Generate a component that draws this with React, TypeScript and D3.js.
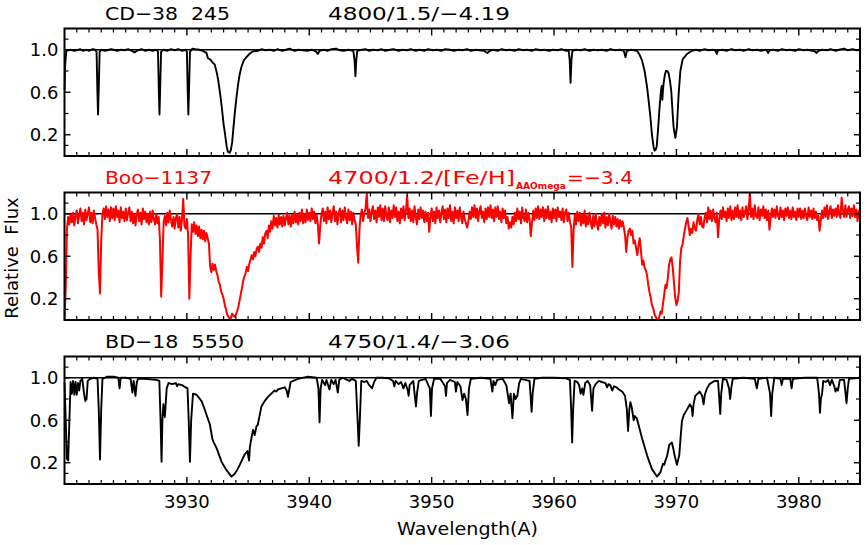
import React from "react";
import * as d3 from "d3";

// ---------- Data ----------
const X_DOMAIN = [3920, 3985];
const Y_DOMAIN = [0, 1.2];
const X_MAJOR_TICKS = [3930, 3940, 3950, 3960, 3970, 3980];
const Y_LABEL_TICKS = [0.2, 0.6, 1.0];
const Y_MINOR_TICKS = [0.1, 0.4, 0.8, 1.1];

const STAR_NAMES = ["CD\u221238  245", "Boo\u22121137", "BD\u221218  5550"];
const STAR_PARAMS = ["4800/1.5/\u22124.19", "4700/1.2/[Fe/H]", "4750/1.4/\u22123.06"];
const BOO_SUBSCRIPT = "AAOmega";
const BOO_FEH = "=\u22123.4";

// Panel 1: CD-38 245  [wavelength, relative flux]
const SPEC_CD38: [number, number][] = [
  [3920.0, 0.62], [3920.05, 0.85], [3920.15, 0.99], [3920.5, 1.0], [3920.8, 0.99], [3921.0, 0.995], [3921.3, 1.005], [3921.5, 0.99], [3921.8, 1.0],
  [3922.0, 0.99], [3922.3, 1.005], [3922.5, 1.0], [3922.62, 0.98], [3922.69, 0.6], [3922.74, 0.39], [3922.79, 0.6], [3922.87, 0.98], [3923.0, 1.0],
  [3923.3, 0.99], [3923.5, 0.995], [3923.8, 1.005], [3924.0, 1.0], [3924.3, 0.99], [3924.6, 1.0], [3924.9, 0.995], [3925.2, 1.005], [3925.5, 0.99],
  [3925.75, 0.975], [3925.85, 0.985], [3926.0, 0.995], [3926.3, 1.005], [3926.6, 0.99], [3926.9, 1.0], [3927.2, 0.99], [3927.5, 1.0],
  [3927.64, 0.98], [3927.71, 0.6], [3927.76, 0.39], [3927.81, 0.6], [3927.89, 0.98], [3928.1, 1.0], [3928.4, 0.99], [3928.7, 1.005], [3929.0, 0.995],
  [3929.3, 1.005], [3929.6, 0.99], [3929.9, 1.0], [3930.0, 0.98], [3930.07, 0.6], [3930.12, 0.39], [3930.17, 0.6], [3930.25, 0.98], [3930.45, 1.01],
  [3930.7, 1.005], [3931.0, 1.0], [3931.3, 0.99], [3931.6, 0.97], [3931.72, 0.92], [3931.9, 0.91], [3932.1, 0.88], [3932.28, 0.86], [3932.45, 0.78],
  [3932.55, 0.72], [3932.7, 0.6], [3932.83, 0.48], [3933.0, 0.3], [3933.1, 0.22], [3933.25, 0.09], [3933.35, 0.04], [3933.5, 0.03], [3933.6, 0.06],
  [3933.7, 0.13], [3933.8, 0.26], [3933.91, 0.4], [3934.05, 0.55], [3934.18, 0.67], [3934.3, 0.76], [3934.46, 0.84], [3934.65, 0.9], [3934.87, 0.93],
  [3935.1, 0.96], [3935.41, 0.985], [3935.8, 0.99], [3936.1, 1.005], [3936.4, 0.995], [3936.8, 1.0], [3937.1, 0.99], [3937.4, 1.005], [3937.8, 0.99],
  [3938.1, 1.0], [3938.4, 1.01], [3938.8, 0.99], [3939.1, 1.0], [3939.5, 0.995], [3939.8, 0.99], [3940.2, 1.0], [3940.55, 0.985], [3940.7, 0.96],
  [3940.85, 0.99], [3941.2, 1.0], [3941.5, 0.99], [3941.8, 1.005], [3942.2, 1.01], [3942.5, 0.995], [3942.8, 0.99], [3943.2, 1.0], [3943.6, 0.99],
  [3943.7, 0.9], [3943.77, 0.75], [3943.84, 0.9], [3943.92, 0.99], [3944.3, 1.0], [3944.6, 1.005], [3944.9, 0.99], [3945.2, 1.0], [3945.6, 0.995],
  [3945.9, 1.005], [3946.2, 0.99], [3946.6, 1.0], [3946.9, 1.005], [3947.3, 0.99], [3947.6, 1.0], [3948.0, 0.995], [3948.3, 1.005], [3948.7, 0.99],
  [3949.0, 1.0], [3949.4, 0.99], [3949.7, 1.005], [3950.1, 0.995], [3950.4, 1.0], [3950.8, 0.99], [3951.1, 1.005], [3951.5, 1.0], [3951.8, 0.99],
  [3952.2, 1.0], [3952.5, 0.995], [3952.9, 1.005], [3953.2, 0.99], [3953.6, 1.0], [3953.9, 0.995], [3954.3, 0.99], [3954.45, 0.975], [3954.56, 0.97],
  [3954.7, 0.985], [3955.0, 1.0], [3955.4, 0.99], [3955.7, 1.005], [3956.1, 0.995], [3956.4, 1.0], [3956.8, 0.99], [3957.1, 1.005], [3957.5, 0.995],
  [3957.8, 1.0], [3958.2, 0.99], [3958.5, 1.005], [3958.9, 0.995], [3959.2, 1.0], [3959.6, 0.99], [3959.9, 1.0], [3960.3, 0.995], [3960.6, 1.005],
  [3961.0, 0.99], [3961.2, 0.99], [3961.28, 0.9], [3961.35, 0.69], [3961.42, 0.9], [3961.5, 0.99], [3961.8, 1.0], [3962.2, 0.995], [3962.5, 1.005],
  [3962.9, 0.99], [3963.2, 1.0], [3963.6, 0.995], [3963.9, 1.0], [3964.3, 0.99], [3964.6, 1.005], [3965.0, 0.995], [3965.4, 1.0], [3965.7, 0.99],
  [3965.84, 0.93], [3965.95, 0.99], [3966.3, 1.0], [3966.78, 0.99], [3967.0, 0.95], [3967.19, 0.9], [3967.4, 0.8], [3967.6, 0.65], [3967.75, 0.5],
  [3967.87, 0.37], [3968.0, 0.2], [3968.06, 0.15], [3968.14, 0.08], [3968.22, 0.05], [3968.3, 0.06], [3968.39, 0.09], [3968.5, 0.25], [3968.61, 0.44],
  [3968.74, 0.62], [3968.8, 0.66], [3968.85, 0.53], [3968.9, 0.62], [3968.96, 0.69], [3969.05, 0.76], [3969.14, 0.8], [3969.25, 0.8], [3969.36, 0.78],
  [3969.48, 0.7], [3969.58, 0.61], [3969.68, 0.42], [3969.77, 0.27], [3969.91, 0.17], [3970.04, 0.27], [3970.18, 0.58], [3970.32, 0.8], [3970.51, 0.91],
  [3970.86, 0.96], [3971.26, 0.99], [3971.6, 1.0], [3971.9, 0.99], [3972.3, 1.005], [3972.6, 0.995], [3973.0, 1.0], [3973.2, 0.99], [3973.3, 0.96],
  [3973.4, 0.995], [3973.8, 1.0], [3974.1, 0.99], [3974.5, 1.005], [3974.8, 0.995], [3975.2, 1.0], [3975.5, 0.99], [3975.9, 1.005], [3976.2, 0.995],
  [3976.6, 1.0], [3976.9, 0.99], [3977.3, 1.0], [3977.4, 0.99], [3977.5, 0.97], [3977.6, 0.995], [3977.9, 1.0], [3978.3, 0.99], [3978.6, 1.005],
  [3979.0, 0.995], [3979.3, 1.0], [3979.7, 0.99], [3980.0, 1.005], [3980.4, 0.995], [3980.7, 1.0], [3981.1, 0.99], [3981.3, 0.985], [3981.45, 0.97],
  [3981.6, 0.99], [3981.9, 1.0], [3982.3, 0.995], [3982.6, 1.005], [3983.0, 0.99], [3983.3, 1.0], [3983.7, 1.01], [3984.0, 0.995], [3984.4, 1.005],
  [3984.7, 0.995], [3985.0, 1.0],
];

// Panel 2: Boo-1137, sampled every 0.1 A from 3920.0
const BOO_START = 3920.0;
const BOO_STEP = 0.1;
const SPEC_BOO: number[] = [
  0.00, 0.30, 0.86, 0.97, 0.90, 1.00, 0.92, 1.01, 0.89, 0.98, // 3920
  1.03, 0.91, 0.99, 1.05, 0.93, 1.01, 0.90, 1.04, 0.94, 1.00, // 3921
  1.06, 0.92, 1.01, 0.91, 1.03, 0.96, 0.90, 0.85, 0.45, 0.25, // 3922
  0.75, 0.99, 1.05, 0.95, 1.07, 0.97, 1.04, 0.93, 1.06, 0.96, // 3923
  1.05, 0.94, 1.07, 0.97, 1.03, 0.92, 1.06, 0.96, 1.02, 0.93, // 3924
  1.05, 0.94, 1.01, 1.06, 0.93, 1.02, 0.91, 1.00, 0.89, 0.99, // 3925
  1.04, 0.93, 1.01, 0.90, 1.05, 0.95, 1.02, 0.92, 1.00, 0.90, // 3926
  1.02, 0.92, 1.03, 0.95, 0.90, 1.00, 0.91, 0.97, 0.75, 0.22, // 3927
  0.55, 0.92, 0.98, 0.89, 1.01, 0.92, 1.03, 0.94, 0.88, 0.97, // 3928
  0.86, 0.96, 1.00, 0.87, 0.97, 0.84, 0.95, 1.14, 0.89, 0.86, // 3929
  0.95, 0.80, 0.20, 0.60, 0.90, 0.83, 0.92, 0.81, 0.89, 0.79, // 3930
  0.88, 0.77, 0.85, 0.76, 0.84, 0.74, 0.82, 0.77, 0.72, 0.50, // 3931
  0.45, 0.53, 0.47, 0.52, 0.46, 0.42, 0.36, 0.33, 0.27, 0.24, // 3932
  0.20, 0.14, 0.10, 0.05, 0.03, 0.01, 0.02, 0.06, 0.04, 0.03, // 3933
  0.05, 0.08, 0.12, 0.18, 0.24, 0.30, 0.37, 0.41, 0.44, 0.50, // 3934
  0.46, 0.53, 0.57, 0.61, 0.57, 0.64, 0.60, 0.67, 0.69, 0.64, // 3935
  0.72, 0.68, 0.78, 0.72, 0.81, 0.84, 0.77, 0.89, 0.83, 0.93, // 3936
  0.86, 0.98, 0.89, 0.96, 0.87, 0.99, 0.90, 0.97, 0.88, 0.98, // 3937
  0.89, 0.96, 1.01, 0.90, 0.98, 0.88, 0.99, 0.91, 1.02, 0.92, // 3938
  0.99, 0.90, 1.01, 0.93, 1.04, 0.91, 1.00, 0.92, 1.04, 0.94, // 3939
  1.01, 0.93, 1.05, 0.95, 1.02, 0.91, 0.99, 0.90, 0.72, 0.89, // 3940
  1.00, 1.05, 0.93, 1.02, 0.91, 1.06, 0.95, 1.03, 0.92, 1.01, // 3941
  1.07, 0.93, 1.02, 0.90, 1.00, 1.05, 0.92, 1.03, 0.94, 1.06, // 3942
  0.96, 0.91, 1.04, 0.94, 1.02, 0.90, 1.01, 0.94, 0.90, 0.70, // 3943
  0.54, 0.85, 0.99, 1.04, 0.93, 1.01, 1.05, 1.19, 0.96, 1.04, // 3944
  0.93, 1.02, 1.07, 0.95, 1.03, 0.92, 1.06, 0.97, 1.08, 0.94, // 3945
  1.05, 0.93, 1.07, 0.98, 0.94, 1.06, 0.92, 1.03, 0.96, 1.08, // 3946
  0.97, 1.06, 0.93, 1.02, 0.91, 1.05, 0.96, 1.07, 0.94, 1.03, // 3947
  1.17, 0.96, 1.05, 0.93, 1.03, 0.92, 1.07, 0.97, 0.90, 1.04, // 3948
  0.95, 1.06, 0.96, 1.03, 0.92, 1.02, 0.93, 1.01, 0.83, 0.96, // 3949
  1.05, 0.93, 1.02, 0.91, 1.06, 0.96, 1.03, 0.92, 1.01, 1.07, // 3950
  0.95, 1.04, 0.92, 1.05, 0.96, 1.08, 0.93, 1.02, 0.91, 1.06, // 3951
  0.96, 1.03, 0.93, 1.06, 0.97, 0.91, 1.02, 0.95, 0.91, 0.87, // 3952
  0.93, 1.02, 0.95, 1.06, 0.97, 1.08, 0.96, 1.05, 0.93, 1.03, // 3953
  1.07, 0.96, 1.02, 0.92, 1.05, 0.95, 1.06, 0.97, 1.08, 0.96, // 3954
  1.04, 0.93, 1.06, 0.97, 1.07, 0.95, 1.02, 0.92, 1.05, 0.96, // 3955
  1.03, 0.91, 0.97, 0.86, 0.92, 0.87, 0.97, 0.90, 1.01, 0.93, // 3956
  1.05, 0.95, 1.02, 0.91, 1.06, 0.96, 0.93, 1.04, 0.92, 1.01, // 3957
  0.95, 0.79, 0.92, 1.03, 0.94, 1.05, 0.96, 1.07, 0.95, 1.04, // 3958
  0.97, 1.06, 0.93, 1.04, 0.96, 1.07, 0.95, 1.02, 0.92, 1.05, // 3959
  0.96, 1.04, 0.93, 1.06, 0.97, 1.02, 0.94, 1.05, 0.92, 1.01, // 3960
  1.04, 0.93, 1.01, 0.92, 0.88, 0.50, 0.85, 0.99, 0.90, 1.02, // 3961
  0.93, 1.01, 0.89, 0.99, 0.91, 1.03, 0.88, 0.98, 0.90, 1.01, // 3962
  0.92, 0.86, 0.98, 0.88, 1.00, 0.91, 0.85, 0.97, 0.89, 1.00, // 3963
  0.91, 1.01, 0.87, 0.97, 0.89, 1.00, 0.92, 0.86, 0.98, 0.90, // 3964
  0.97, 0.88, 0.95, 0.86, 0.94, 0.88, 0.93, 0.87, 0.80, 0.64, // 3965
  0.78, 0.84, 0.86, 0.80, 0.84, 0.72, 0.75, 0.68, 0.61, 0.70, // 3966
  0.77, 0.66, 0.52, 0.56, 0.49, 0.47, 0.42, 0.33, 0.26, 0.21, // 3967
  0.14, 0.11, 0.06, 0.03, 0.01, 0.00, 0.03, 0.08, 0.06, 0.15, // 3968
  0.24, 0.33, 0.30, 0.40, 0.52, 0.57, 0.59, 0.49, 0.35, 0.21, // 3969
  0.14, 0.18, 0.27, 0.56, 0.68, 0.71, 0.79, 0.86, 0.92, 0.96, // 3970
  0.88, 0.80, 0.86, 0.82, 0.92, 0.86, 0.84, 0.94, 1.00, 0.90, // 3971
  0.97, 0.88, 0.87, 0.96, 1.01, 0.92, 1.06, 0.95, 1.03, 0.93, // 3972
  1.04, 0.96, 0.92, 1.01, 0.78, 0.95, 1.03, 0.95, 1.06, 0.97, // 3973
  1.02, 0.93, 1.05, 0.96, 1.07, 0.94, 1.03, 0.95, 1.06, 0.97, // 3974
  1.08, 0.96, 1.03, 0.94, 1.06, 0.97, 1.02, 1.07, 0.95, 1.04, // 3975
  1.19, 0.97, 1.05, 0.95, 1.08, 0.98, 0.96, 1.06, 0.94, 1.04, // 3976
  0.98, 1.07, 0.96, 1.04, 0.94, 1.03, 0.85, 0.96, 1.05, 0.97, // 3977
  1.04, 0.96, 1.07, 0.98, 0.95, 1.06, 0.97, 1.03, 0.94, 1.05, // 3978
  0.98, 1.06, 0.96, 1.03, 0.95, 1.06, 0.97, 1.02, 0.94, 1.05, // 3979
  0.97, 1.05, 0.95, 1.03, 0.96, 1.05, 0.98, 0.94, 1.06, 0.97, // 3980
  1.03, 0.95, 1.05, 0.96, 1.02, 0.94, 0.98, 0.84, 0.94, 1.03, // 3981
  0.96, 1.06, 0.97, 1.08, 0.95, 1.03, 1.07, 0.96, 1.04, 0.98, // 3982
  1.05, 0.97, 1.08, 0.99, 0.96, 1.15, 1.04, 0.97, 1.08, 0.97, // 3983
  1.04, 1.07, 0.96, 1.05, 0.98, 1.08, 0.97, 1.04, 0.93, 1.03, // 3984
  0.99,
];

// Panel 3: BD-18 5550  [wavelength, relative flux]
const SPEC_BD18: [number, number][] = [
  [3920.0, 0.95], [3920.1, 0.6], [3920.2, 0.24], [3920.3, 0.22], [3920.4, 0.6], [3920.5, 0.96], [3920.6, 0.85], [3920.7, 0.97], [3920.8, 0.84],
  [3920.9, 0.96], [3921.0, 0.84], [3921.1, 0.95], [3921.2, 0.88], [3921.3, 0.97], [3921.45, 0.99], [3921.6, 0.85], [3921.7, 0.78], [3921.8, 0.8],
  [3921.9, 0.97], [3922.1, 0.99], [3922.4, 1.0], [3922.7, 0.99], [3922.8, 0.7], [3922.9, 0.23], [3923.0, 0.7], [3923.1, 0.99], [3923.5, 1.01],
  [3924.0, 1.01], [3924.4, 1.0], [3924.5, 0.9], [3924.6, 1.0], [3925.0, 1.0], [3925.4, 0.99], [3925.55, 0.86], [3925.65, 0.97], [3925.8, 0.83],
  [3925.9, 0.95], [3926.0, 0.99], [3926.5, 0.99], [3927.0, 0.985], [3927.5, 0.98], [3927.75, 0.97], [3927.85, 0.6], [3927.93, 0.21], [3928.0, 0.6],
  [3928.08, 0.75], [3928.2, 0.63], [3928.35, 0.9], [3928.5, 0.95], [3928.8, 0.94], [3929.1, 0.95], [3929.2, 0.92], [3929.3, 0.94], [3929.6, 0.93],
  [3929.9, 0.91], [3930.05, 0.9], [3930.15, 0.6], [3930.25, 0.21], [3930.35, 0.6], [3930.5, 0.85], [3930.79, 0.84], [3931.2, 0.78], [3931.4, 0.72],
  [3931.61, 0.65], [3931.88, 0.56], [3932.0, 0.48], [3932.07, 0.43], [3932.2, 0.39], [3932.42, 0.34], [3932.83, 0.21], [3933.24, 0.13], [3933.64, 0.07],
  [3933.86, 0.09], [3934.1, 0.13], [3934.32, 0.18], [3934.73, 0.28], [3934.95, 0.31], [3935.02, 0.26], [3935.08, 0.22], [3935.15, 0.35], [3935.27, 0.43],
  [3935.41, 0.51], [3935.54, 0.46], [3935.68, 0.54], [3935.8, 0.56], [3935.9, 0.62], [3936.09, 0.73], [3936.35, 0.78], [3936.63, 0.82], [3936.9, 0.85],
  [3937.17, 0.88], [3937.3, 0.87], [3937.45, 0.89], [3937.99, 0.91], [3938.15, 0.88], [3938.26, 0.82], [3938.38, 0.9], [3938.48, 0.96], [3939.07, 0.99],
  [3939.89, 1.01], [3940.6, 1.0], [3940.75, 0.9], [3940.84, 0.58], [3940.93, 0.9], [3941.05, 0.98], [3941.3, 0.93], [3941.4, 0.98], [3941.65, 0.89],
  [3941.8, 0.98], [3942.0, 0.94], [3942.15, 0.98], [3942.33, 0.86], [3942.45, 0.98], [3942.7, 1.0], [3943.28, 0.97], [3943.5, 0.99], [3943.8, 0.97],
  [3943.95, 0.6], [3944.04, 0.36], [3944.13, 0.6], [3944.25, 0.97], [3944.5, 0.96], [3944.7, 0.97], [3944.9, 0.93], [3945.13, 0.9], [3945.3, 0.96],
  [3945.5, 1.0], [3946.0, 1.0], [3946.5, 0.995], [3946.85, 0.97], [3946.95, 0.92], [3947.05, 0.97], [3947.3, 0.94], [3947.5, 0.96], [3947.7, 0.9],
  [3947.85, 0.95], [3948.05, 0.88], [3948.12, 0.83], [3948.2, 0.93], [3948.5, 0.97], [3948.65, 0.8], [3948.72, 0.73], [3948.8, 0.85], [3948.95, 0.97],
  [3949.5, 0.99], [3949.85, 0.9], [3949.94, 0.64], [3950.03, 0.9], [3950.2, 0.99], [3950.7, 0.99], [3951.1, 0.92], [3951.17, 0.83], [3951.25, 0.95],
  [3951.5, 0.98], [3951.9, 0.96], [3951.98, 0.87], [3952.1, 0.96], [3952.35, 0.92], [3952.52, 0.79], [3952.65, 0.85], [3952.8, 0.8], [3952.93, 0.65],
  [3953.05, 0.9], [3953.2, 0.99], [3954.0, 1.0], [3954.8, 0.99], [3954.96, 0.87], [3955.05, 0.97], [3955.2, 0.93], [3955.35, 0.98], [3955.8, 0.99],
  [3956.1, 0.93], [3956.33, 0.76], [3956.45, 0.85], [3956.6, 0.62], [3956.72, 0.85], [3956.85, 0.8], [3957.0, 0.83], [3957.15, 0.95], [3957.3, 0.99],
  [3958.0, 0.97], [3958.1, 0.8], [3958.17, 0.68], [3958.25, 0.85], [3958.4, 0.99], [3959.0, 1.0], [3960.0, 1.0], [3961.0, 0.995], [3961.3, 0.98],
  [3961.4, 0.7], [3961.48, 0.39], [3961.56, 0.7], [3961.68, 0.97], [3961.9, 0.96], [3962.05, 0.93], [3962.17, 0.85], [3962.3, 0.9], [3962.4, 0.84],
  [3962.55, 0.95], [3962.75, 0.97], [3962.95, 0.93], [3963.11, 0.69], [3963.22, 0.9], [3963.4, 0.94], [3963.66, 0.97], [3963.9, 0.96], [3964.2, 0.95],
  [3964.34, 0.91], [3964.45, 0.94], [3964.6, 0.93], [3964.75, 0.88], [3964.9, 0.92], [3965.1, 0.91], [3965.3, 0.89], [3965.56, 0.87], [3965.8, 0.83],
  [3965.95, 0.7], [3966.05, 0.5], [3966.15, 0.7], [3966.24, 0.77], [3966.35, 0.72], [3966.51, 0.6], [3966.6, 0.64], [3966.75, 0.62], [3966.92, 0.55],
  [3967.19, 0.43], [3967.6, 0.27], [3968.0, 0.14], [3968.41, 0.07], [3968.69, 0.11], [3968.9, 0.19], [3969.0, 0.18], [3969.1, 0.22], [3969.23, 0.26],
  [3969.42, 0.37], [3969.63, 0.39], [3969.75, 0.33], [3969.85, 0.27], [3970.04, 0.18], [3970.23, 0.27], [3970.35, 0.45], [3970.45, 0.59], [3970.6, 0.65],
  [3970.86, 0.7], [3971.1, 0.75], [3971.25, 0.72], [3971.32, 0.64], [3971.4, 0.75], [3971.54, 0.83], [3971.9, 0.87], [3972.1, 0.83], [3972.22, 0.75],
  [3972.32, 0.84], [3972.5, 0.9], [3972.7, 0.94], [3973.1, 0.97], [3973.4, 0.97], [3973.5, 0.8], [3973.58, 0.66], [3973.66, 0.85], [3973.8, 0.99],
  [3974.1, 0.98], [3974.3, 0.9], [3974.39, 0.8], [3974.48, 0.9], [3974.6, 0.99], [3975.5, 1.0], [3976.4, 0.99], [3976.57, 0.9], [3976.7, 0.99],
  [3977.4, 1.0], [3977.65, 0.85], [3977.74, 0.64], [3977.83, 0.85], [3978.0, 1.0], [3978.5, 0.99], [3978.6, 0.93], [3978.7, 0.99], [3979.3, 0.99],
  [3979.41, 0.9], [3979.52, 0.99], [3980.5, 1.0], [3981.5, 1.0], [3981.65, 0.85], [3981.73, 0.67], [3981.8, 0.8], [3981.9, 0.85], [3982.0, 0.97],
  [3982.2, 0.96], [3982.4, 0.98], [3982.55, 0.93], [3982.7, 0.98], [3982.9, 0.92], [3983.0, 0.87], [3983.1, 0.9], [3983.2, 0.88], [3983.35, 0.98],
  [3983.7, 0.98], [3983.82, 0.85], [3983.9, 0.76], [3984.0, 0.9], [3984.1, 0.99], [3985.0, 1.0],
];

// ---------- Layout ----------
const W = 867;
const H = 545;
const LEFT = 64.5;
const RIGHT = 860;
const PANEL_TOPS = [28.5, 192.5, 356.5];
const PANEL_H = 127.5;
const FONT = "'DejaVu Sans', 'Liberation Sans', sans-serif";
const NAME_LEN = [125, 107, 139];
const PARAM_LEN = [182, 187, 182];

const x = d3.scaleLinear().domain(X_DOMAIN).range([LEFT, RIGHT]);

function Panel({ idx, data, color }: { idx: number; data: [number, number][]; color: string }) {
  const top = PANEL_TOPS[idx];
  const bottom = top + PANEL_H;
  const y = d3.scaleLinear().domain(Y_DOMAIN).range([bottom, top]);
  const line = d3
    .line<[number, number]>()
    .x((d) => x(d[0]))
    .y((d) => y(d[1]));
  const minorX = d3.range(3921, 3985, 1).filter((v) => !X_MAJOR_TICKS.includes(v));
  const clipId = `clip${idx}`;
  const titleY = top - 9;
  return (
    <g>
      <defs>
        <clipPath id={clipId}>
          <rect x={LEFT - 1} y={top} width={RIGHT - LEFT + 2} height={PANEL_H} />
        </clipPath>
      </defs>
      <line x1={LEFT} x2={RIGHT} y1={y(1)} y2={y(1)} stroke="#000" strokeWidth={1.6} />
      <path d={line(data) || ""} fill="none" stroke={color} strokeWidth={idx === 1 ? 2 : 1.9} strokeLinejoin="round" clipPath={`url(#${clipId})`} />
      {minorX.map((v) => (
        <g key={"mx" + v}>
          <line x1={x(v)} x2={x(v)} y1={top} y2={top + 4} stroke="#000" strokeWidth={1.2} />
          <line x1={x(v)} x2={x(v)} y1={bottom} y2={bottom - 4} stroke="#000" strokeWidth={1.2} />
        </g>
      ))}
      {X_MAJOR_TICKS.map((v) => (
        <g key={"Mx" + v}>
          <line x1={x(v)} x2={x(v)} y1={top} y2={top + 7} stroke="#000" strokeWidth={1.4} />
          <line x1={x(v)} x2={x(v)} y1={bottom} y2={bottom - 7} stroke="#000" strokeWidth={1.4} />
        </g>
      ))}
      {Y_MINOR_TICKS.map((v) => (
        <g key={"my" + v}>
          <line x1={LEFT} x2={LEFT + 4} y1={y(v)} y2={y(v)} stroke="#000" strokeWidth={1.2} />
          <line x1={RIGHT} x2={RIGHT - 4} y1={y(v)} y2={y(v)} stroke="#000" strokeWidth={1.2} />
        </g>
      ))}
      {Y_LABEL_TICKS.map((v) => (
        <g key={"My" + v}>
          <line x1={LEFT} x2={LEFT + 6} y1={y(v)} y2={y(v)} stroke="#000" strokeWidth={1.4} />
          <line x1={RIGHT} x2={RIGHT - 6} y1={y(v)} y2={y(v)} stroke="#000" strokeWidth={1.4} />
          <text x={58.5} y={y(v) + 6.5} textAnchor="end" fontSize={18} fontFamily={FONT} fill="#000">
            {v.toFixed(1)}
          </text>
        </g>
      ))}
      <rect x={LEFT} y={top} width={RIGHT - LEFT} height={PANEL_H} fill="none" stroke="#000" strokeWidth={2} />
      <text x={105} y={titleY} fontSize={18} fontFamily={FONT} fill={color} xmlSpace="preserve"
        textLength={NAME_LEN[idx]} lengthAdjust="spacingAndGlyphs">
        {STAR_NAMES[idx]}
      </text>
      <text x={328} y={titleY} fontSize={18} fontFamily={FONT} fill={color}
        textLength={PARAM_LEN[idx]} lengthAdjust="spacingAndGlyphs">
        {STAR_PARAMS[idx]}
      </text>
      {idx === 1 && (
        <>
          <text x={516} y={titleY + 5} fontSize={9.5} fontWeight="bold" fontFamily={FONT} fill={color}
            textLength={50} lengthAdjust="spacingAndGlyphs">
            {BOO_SUBSCRIPT}
          </text>
          <text x={567} y={titleY} fontSize={18} fontFamily={FONT} fill={color}
            textLength={66} lengthAdjust="spacingAndGlyphs">
            {BOO_FEH}
          </text>
        </>
      )}
    </g>
  );
}

export default function App() {
  const booData: [number, number][] = SPEC_BOO.map((f, i) => [BOO_START + i * BOO_STEP, f]);
  const bottom = PANEL_TOPS[2] + PANEL_H;
  return (
    <svg
      width={W}
      height={H}
      viewBox={`0 0 ${W} ${H}`}
      style={{ position: "absolute", left: 0, top: 0, background: "#fff" }}
    >
      <rect x={0} y={0} width={W} height={H} fill="#fff" />
      <Panel idx={0} data={SPEC_CD38} color="#000" />
      <Panel idx={1} data={booData} color="#ff0000" />
      <Panel idx={2} data={SPEC_BD18} color="#000" />
      {X_MAJOR_TICKS.map((v) => (
        <text key={"xl" + v} x={x(v)} y={bottom + 24} textAnchor="middle" fontSize={18} fontFamily={FONT} fill="#000">
          {v}
        </text>
      ))}
      <text x={397} y={535} fontSize={18} fontFamily={FONT} fill="#000" textLength={141} lengthAdjust="spacingAndGlyphs">
        Wavelength(A)
      </text>
      <text
        transform={`translate(18, 258) rotate(-90)`}
        textAnchor="middle"
        fontSize={18}
        fontFamily={FONT}
        fill="#000"
        xmlSpace="preserve"
      >
        Relative  Flux
      </text>
    </svg>
  );
}
